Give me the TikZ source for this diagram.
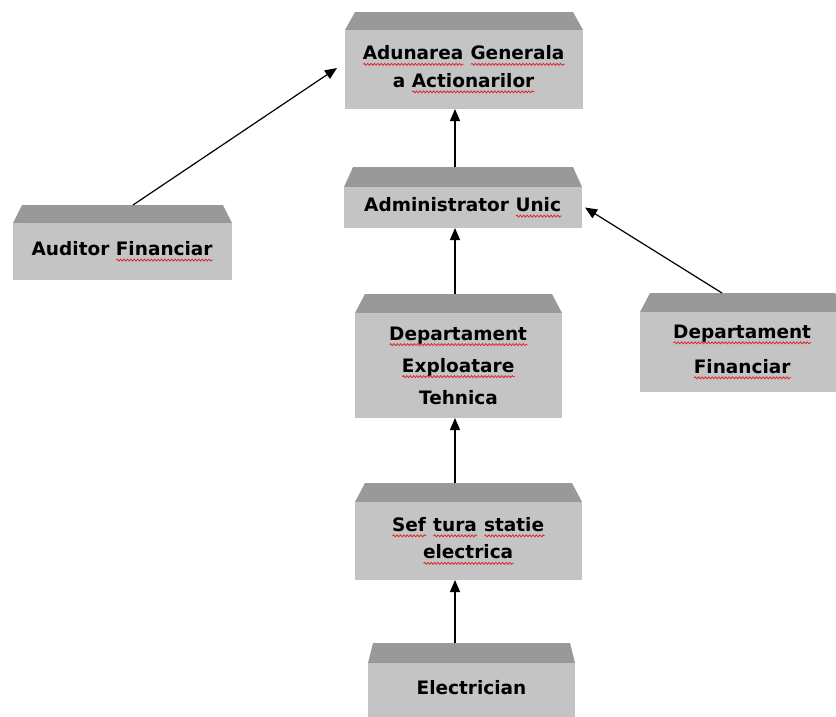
\documentclass[tikz,border=0pt]{standalone}
\usepackage{fontspec}
\setmainfont{DejaVu Sans}
\usetikzlibrary{arrows.meta,decorations.pathmorphing}
\definecolor{boxbody}{HTML}{C4C4C4}
\definecolor{boxtop}{HTML}{999999}
\definecolor{squig}{HTML}{E02020}
\newlength\sqw
\newcommand\sq[1]{\settowidth\sqw{#1}\rlap{#1}\tikz[baseline=0pt,x=1pt,y=1pt]\draw[squig,line width=0.75pt,decorate,decoration={snake,amplitude=1pt,segment length=3.4pt}] (0,-4.5) -- (\sqw,-4.5);}
% #1 name, #2 x1, #3 x2, #4 y trap top, #5 y body top, #6 y body bottom, #7 inset, #8 text
\newcommand\orgbox[8]{%
  \fill[boxtop] (#2+#7,#4) -- (#3-#7,#4) -- (#3,#5) -- (#2,#5) -- cycle;
  \node[lbl, minimum width={#3-#2}, minimum height={#6-#5}] (#1) at ({(#2+#3)/2},{(#5+#6)/2}) {#8};
  \coordinate (#1-t) at (455,#4);
}
\begin{document}
\begin{tikzpicture}[x=1pt,y=-1pt,
  lbl/.style={fill=boxbody, inner sep=0pt, outer sep=0pt, align=center,
    font=\fontsize{18.5}{27.5}\selectfont\bfseries, text=black},
  arr/.style={draw=black, line width=1.2pt, -{Triangle[length=12pt,width=10pt]}}]
\useasboundingbox (0,0) rectangle (836,716);
\clip (0,0) rectangle (836,716);
\fill[white] (0,0) rectangle (836,716);

\orgbox{ada}{345}{583}{12}{30}{109}{10}{\sq{Adunarea} \sq{Generala}\\ a \sq{Actionarilor}}
\orgbox{adm}{344}{582}{167}{187}{228}{9}{Administrator \sq{Unic}}
\orgbox{aud}{13}{232}{205}{223}{280}{9}{\raisebox{3pt}{Auditor \sq{Financiar}}}
\orgbox{dex}{355}{562}{294}{313}{418}{10}{\sq{Departament}\\[4.5pt] \sq{Exploatare}\\[4.5pt] Tehnica}
\orgbox{dfi}{640}{845}{293}{312}{392}{10}{\sq{Departament}\\[7.5pt] \sq{Financiar}}
\orgbox{sef}{355}{582}{483}{502}{580}{10}{\sq{Sef} \sq{tura} \sq{statie}\\ \sq{electrica}}
\orgbox{ele}{368}{575}{643}{663}{722}{5}{\raisebox{10pt}{Electrician}}

\coordinate (aud-s) at (133,205);
\coordinate (dfi-s) at (722,293);

\draw[arr] (adm-t) -- (adm-t |- ada.south);
\draw[arr] (dex-t) -- (dex-t |- adm.south);
\draw[arr] (sef-t) -- (sef-t |- dex.south);
\draw[arr] (ele-t) -- (ele-t |- sef.south);
\draw[arr] (aud-s) -- ([xshift=-8pt,yshift=1.5pt]ada.west);
\draw[arr] (dfi-s) -- ([xshift=3pt]adm.east);
\end{tikzpicture}
\end{document}
